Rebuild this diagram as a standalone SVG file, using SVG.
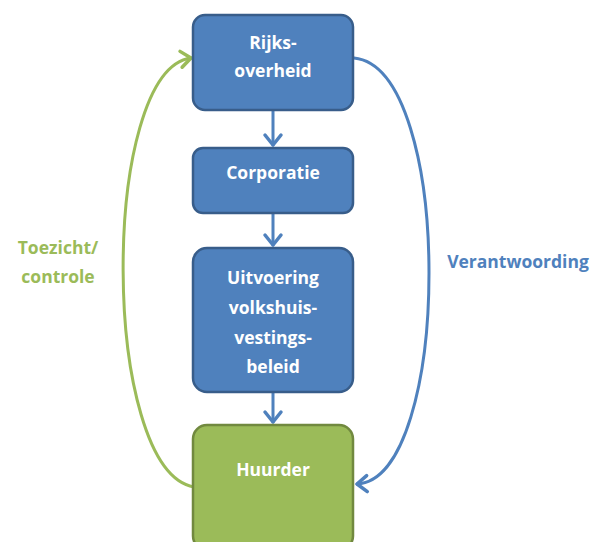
<svg xmlns="http://www.w3.org/2000/svg" width="604" height="542" viewBox="0 0 604 542">
<style>
.blue{fill:#4F81BD;stroke:#385D8A;stroke-width:2.5}
.green{fill:#9BBB59;stroke:#71893F;stroke-width:2.5}
.t{font-family:"Open Sans","Liberation Sans",sans-serif;font-weight:bold;font-size:17.5px;fill:#FFFFFF;text-anchor:middle}
.lbl{font-family:"Open Sans","Liberation Sans",sans-serif;font-weight:bold;font-size:17.5px;text-anchor:middle}
.c{fill:none;stroke-width:3;stroke-linecap:round}
</style>
<defs>
<marker id="ab" markerUnits="userSpaceOnUse" markerWidth="24" markerHeight="24" refX="12" refY="12" orient="auto" overflow="visible">
<path d="M2,4 L12,12 L2,20" fill="none" stroke="#4F81BD" stroke-width="3.5" stroke-linecap="round" stroke-linejoin="round"/>
</marker>
<marker id="ag" markerUnits="userSpaceOnUse" markerWidth="24" markerHeight="24" refX="12" refY="12" orient="auto" overflow="visible">
<path d="M2,4 L12,12 L2,20" fill="none" stroke="#9BBB59" stroke-width="3.5" stroke-linecap="round" stroke-linejoin="round"/>
</marker>
</defs>
<rect width="604" height="542" fill="#FFFFFF"/>
<g id="connectors">
<path class="c" stroke="#4F81BD" d="M273,111 L273,145" marker-end="url(#ab)"/>
<path class="c" stroke="#4F81BD" d="M273,214 L273,245" marker-end="url(#ab)"/>
<path class="c" stroke="#4F81BD" d="M273,393 L273,422" marker-end="url(#ab)"/>
<path class="c" stroke="#9BBB59" d="M194,487 C100,470 100,70 191,58" marker-end="url(#ag)"/>
<path class="c" stroke="#4F81BD" d="M354,58 C455,68 452,480 357,484" marker-end="url(#ab)"/>
</g>
<g id="rijksoverheid">
<rect class="blue" x="193" y="15" width="160" height="95" rx="12"/>
<text class="t" x="273" y="49">Rijks-</text>
<text class="t" x="273" y="77">overheid</text>
</g>
<g id="corporatie">
<rect class="blue" x="193" y="148" width="160" height="65" rx="10"/>
<text class="t" x="273" y="179">Corporatie</text>
</g>
<g id="uitvoering">
<rect class="blue" x="193" y="248" width="160" height="144" rx="14"/>
<text class="t" x="273" y="284">Uitvoering</text>
<text class="t" x="273" y="314">volkshuis-</text>
<text class="t" x="273" y="344">vestings-</text>
<text class="t" x="273" y="373">beleid</text>
</g>
<g id="huurder">
<rect class="green" x="193" y="425" width="160" height="125" rx="14"/>
<text class="t" x="273" y="476">Huurder</text>
</g>
<g id="labels">
<text class="lbl" fill="#9BBB59" x="58" y="254">Toezicht/</text>
<text class="lbl" fill="#9BBB59" x="58" y="283">controle</text>
<text class="lbl" fill="#4F81BD" x="518" y="268">Verantwoording</text>
</g>
</svg>
